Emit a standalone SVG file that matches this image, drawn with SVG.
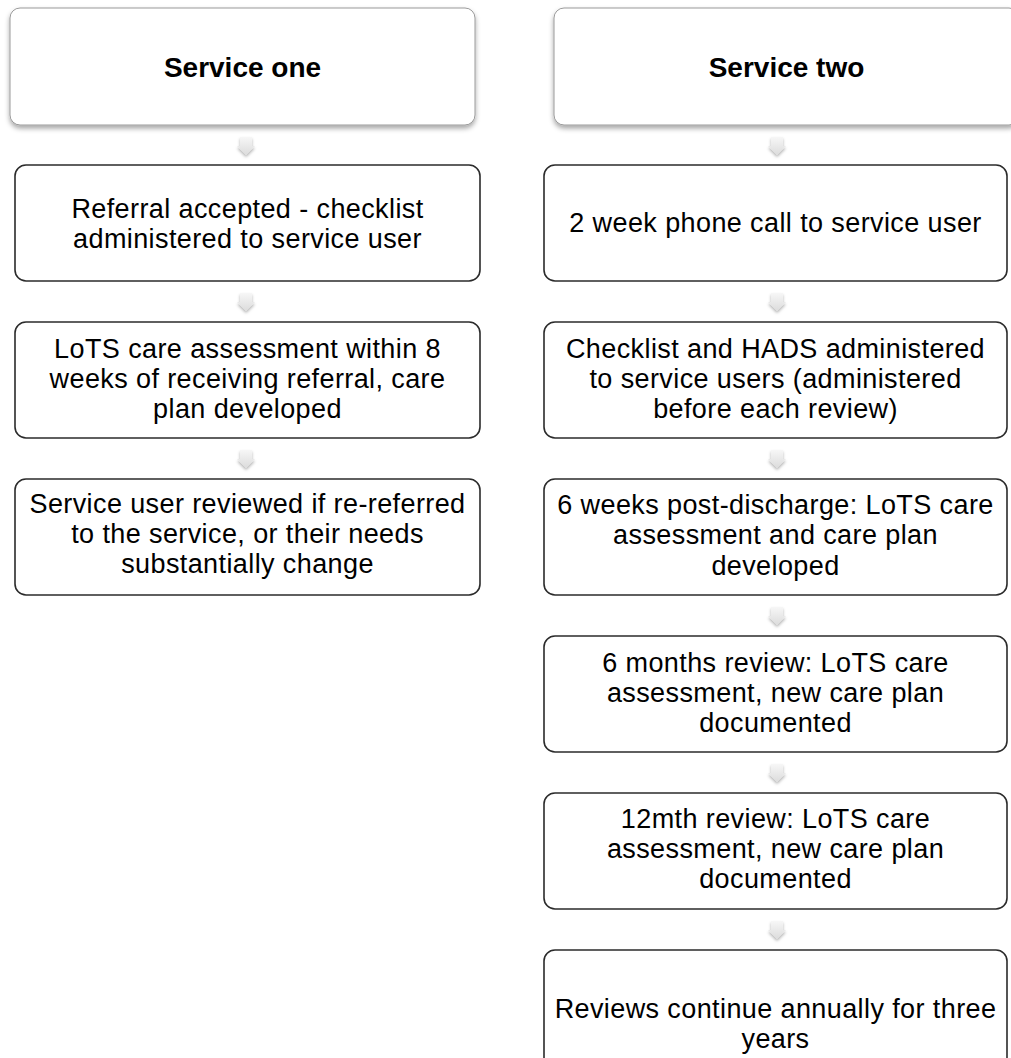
<svg xmlns="http://www.w3.org/2000/svg" width="1011" height="1058" viewBox="0 0 1011 1058">
  <defs>
    <style>
      .hdr { fill: #ffffff; stroke: #9a9a9a; stroke-width: 1; filter: url(#hdrShadow); }
      .box { fill: #ffffff; stroke: #2b2b2b; stroke-width: 1.6; }
      .hdr-text { font-family: "Liberation Sans", Arial, sans-serif; font-size: 28px; font-weight: bold; fill: #000000; text-anchor: middle; }
      .txt { font-family: "Liberation Sans", Arial, sans-serif; font-size: 27px; letter-spacing: 0.4px; fill: #000000; text-anchor: middle; }
      .arrow { fill: url(#arrowFill); filter: url(#arrowShadow); }
    </style>
    <filter id="hdrShadow" x="-5%" y="-10%" width="110%" height="130%">
      <feDropShadow dx="0" dy="3" stdDeviation="2.5" flood-color="#000000" flood-opacity="0.35"/>
    </filter>
    <filter id="arrowShadow" x="-60%" y="-40%" width="220%" height="200%">
      <feDropShadow dx="0" dy="2" stdDeviation="1.8" flood-color="#000000" flood-opacity="0.3"/>
    </filter>
    <linearGradient id="arrowFill" x1="0" y1="0" x2="0" y2="1">
      <stop offset="0" stop-color="#f7f7f7"/>
      <stop offset="1" stop-color="#dcdcdc"/>
    </linearGradient>
    <!-- down-pointing block arrow, origin at top centre -->
    <path id="downArrow" d="M-6,0 H6 V9 H9 L0,18 L-9,9 H-6 Z"/>
  </defs>

  <rect width="1011" height="1058" fill="#ffffff"/>

  <!-- connectors between stages -->
  <g id="connectors">
    <use href="#downArrow" class="arrow" x="246" y="137"/>
    <use href="#downArrow" class="arrow" x="246" y="293"/>
    <use href="#downArrow" class="arrow" x="246" y="450"/>

    <use href="#downArrow" class="arrow" x="777" y="137"/>
    <use href="#downArrow" class="arrow" x="777" y="293"/>
    <use href="#downArrow" class="arrow" x="777" y="450"/>
    <use href="#downArrow" class="arrow" x="777" y="607"/>
    <use href="#downArrow" class="arrow" x="777" y="764"/>
    <use href="#downArrow" class="arrow" x="777" y="921"/>
  </g>

  <!-- Service one column -->
  <g id="service-one-header">
    <rect class="hdr" x="10" y="8" width="465" height="117" rx="10"/>
    <text class="hdr-text" x="242.5" y="77">Service one</text>
  </g>
  <g id="s1-referral">
    <rect class="box" x="15" y="165" width="465" height="116" rx="11"/>
    <text class="txt" x="247.5" y="218">Referral accepted - checklist</text>
    <text class="txt" x="247.5" y="248">administered to service user</text>
  </g>
  <g id="s1-assessment">
    <rect class="box" x="15" y="322" width="465" height="116" rx="11"/>
    <text class="txt" x="247.5" y="358">LoTS care assessment within 8</text>
    <text class="txt" x="247.5" y="388">weeks of receiving referral, care</text>
    <text class="txt" x="247.5" y="418">plan developed</text>
  </g>
  <g id="s1-review">
    <rect class="box" x="15" y="479" width="465" height="116" rx="11"/>
    <text class="txt" x="247.5" y="513">Service user reviewed if re-referred</text>
    <text class="txt" x="247.5" y="543">to the service, or their needs</text>
    <text class="txt" x="247.5" y="573">substantially change</text>
  </g>

  <!-- Service two column -->
  <g id="service-two-header">
    <rect class="hdr" x="554" y="8" width="465" height="117" rx="10"/>
    <text class="hdr-text" x="786.5" y="77">Service two</text>
  </g>
  <g id="s2-phone-call">
    <rect class="box" x="544" y="165" width="463" height="116" rx="11"/>
    <text class="txt" x="775.5" y="232">2 week phone call to service user</text>
  </g>
  <g id="s2-checklist">
    <rect class="box" x="544" y="322" width="463" height="116" rx="11"/>
    <text class="txt" x="775.5" y="358">Checklist and HADS administered</text>
    <text class="txt" x="775.5" y="388">to service users (administered</text>
    <text class="txt" x="775.5" y="418">before each review)</text>
  </g>
  <g id="s2-six-weeks">
    <rect class="box" x="544" y="479" width="463" height="116" rx="11"/>
    <text class="txt" x="775.5" y="514">6 weeks post-discharge: LoTS care</text>
    <text class="txt" x="775.5" y="544">assessment and care plan</text>
    <text class="txt" x="775.5" y="575">developed</text>
  </g>
  <g id="s2-six-months">
    <rect class="box" x="544" y="636" width="463" height="116" rx="11"/>
    <text class="txt" x="775.5" y="672">6 months review: LoTS care</text>
    <text class="txt" x="775.5" y="702">assessment, new care plan</text>
    <text class="txt" x="775.5" y="732">documented</text>
  </g>
  <g id="s2-twelve-months">
    <rect class="box" x="544" y="793" width="463" height="116" rx="11"/>
    <text class="txt" x="775.5" y="828">12mth review: LoTS care</text>
    <text class="txt" x="775.5" y="858">assessment, new care plan</text>
    <text class="txt" x="775.5" y="888">documented</text>
  </g>
  <g id="s2-annual">
    <rect class="box" x="544" y="950" width="463" height="152" rx="11"/>
    <text class="txt" x="775.5" y="1018">Reviews continue annually for three</text>
    <text class="txt" x="775.5" y="1048">years</text>
  </g>
</svg>
